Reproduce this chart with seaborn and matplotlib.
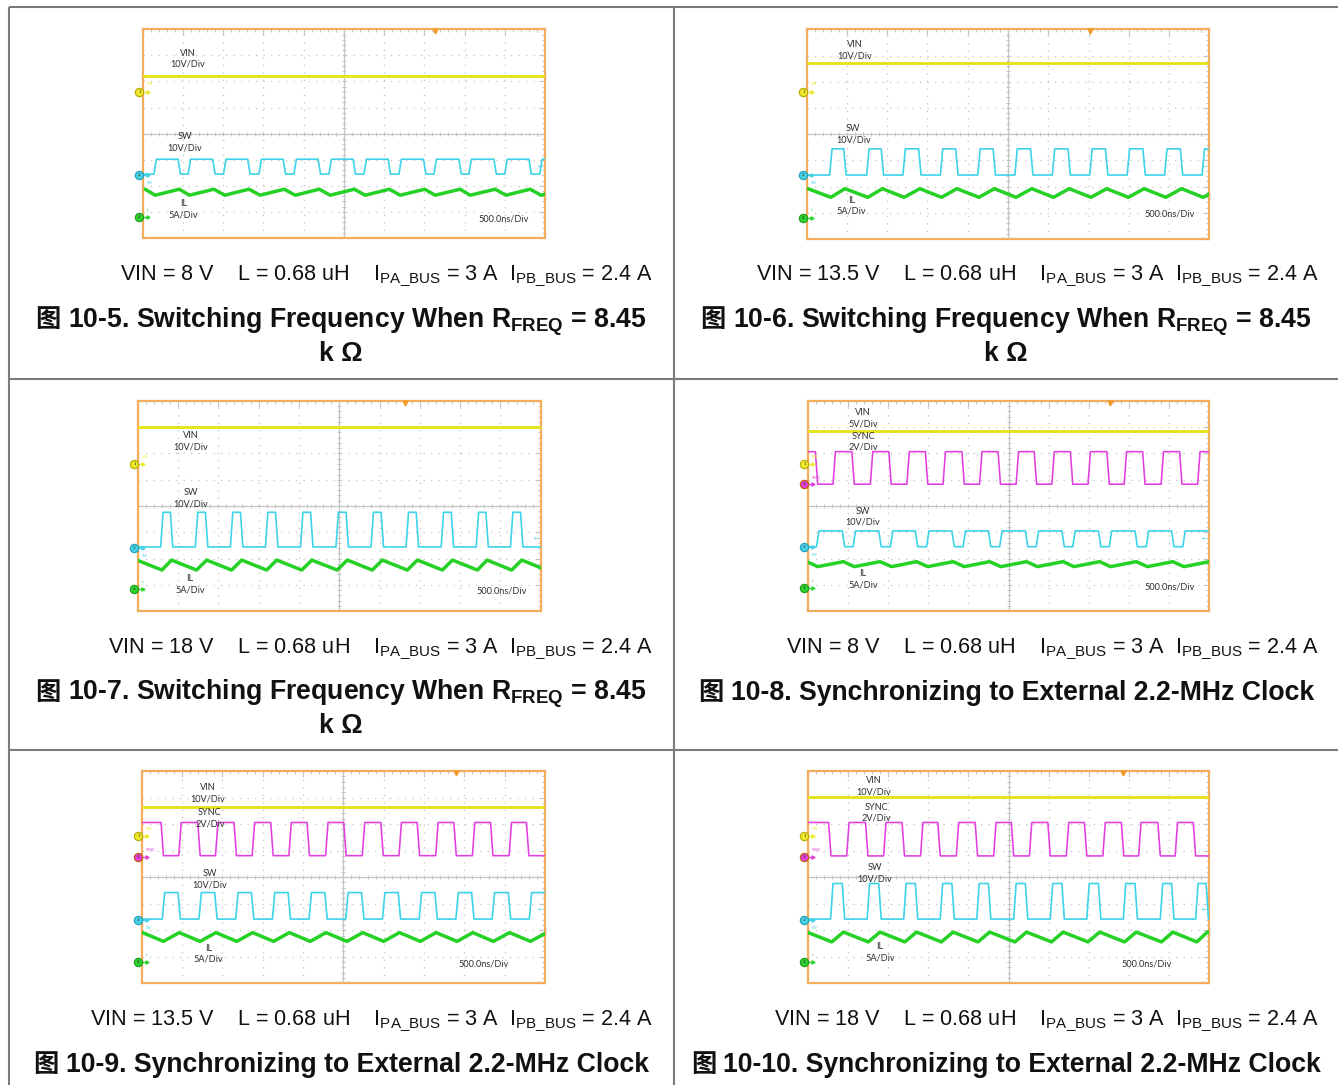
import numpy as np
import matplotlib
matplotlib.use('Agg')
import matplotlib.pyplot as plt
import seaborn as sns
from matplotlib import font_manager

# ---------------- data read from the scope shots ----------------
figure_ids = ['10-5', '10-6', '10-7', '10-8', '10-9', '10-10']
vin_volts = ['8', '13.5', '18', '8', '13.5', '18']
caption_titles = ['Switching Frequency When R$_{\\mathbf{FREQ}}$ = 8.45',
                  'Switching Frequency When R$_{\\mathbf{FREQ}}$ = 8.45',
                  'Switching Frequency When R$_{\\mathbf{FREQ}}$ = 8.45',
                  'Synchronizing to External 2.2-MHz Clock',
                  'Synchronizing to External 2.2-MHz Clock',
                  'Synchronizing to External 2.2-MHz Clock']
caption_second_line = ['k Ω', 'k Ω', 'k Ω', '', '', '']
vin_scale = ['10V/Div', '10V/Div', '10V/Div', '5V/Div', '10V/Div', '10V/Div']
has_sync = [False, False, False, True, True, True]

# trace levels in screen divisions (0 = bottom, 8 = top, 10 divs across)
vin_level = [6.22, 6.70, 7.02, 6.87, 6.63, 7.01]
sw_lo = [2.45, 2.44, 2.44, 2.45, 2.42, 2.42]
sw_hi = [3.02, 3.44, 3.76, 3.05, 3.42, 3.76]
il_lo = [1.64, 1.59, 1.56, 1.69, 1.58, 1.56]
il_hi = [1.87, 1.92, 1.94, 1.88, 1.91, 1.93]
sync_lo = [None, None, None, 4.83, 4.81, 4.80]
sync_hi = [None, None, None, 6.07, 6.06, 6.06]

# channel ground markers (divisions)
gnd_ch1 = [5.61, 5.62, 5.59, 5.59, 5.55, 5.55]
gnd_ch2 = [2.40, 2.43, 2.40, 2.43, 2.40, 2.40]
gnd_ch3 = [None, None, None, 4.82, 4.77, 4.77]
gnd_ch4 = [0.80, 0.81, 0.83, 0.86, 0.80, 0.80]
trig_time = [7.27, 7.04, 6.63, 7.52, 7.80, 7.85]
trig_level = [2.78, 2.80, 2.80, 2.80, 2.80, 2.80]

# switch node edges (divisions)
sw_rise_10_5 = [0.31, 1.16, 2.04, 2.92, 3.79, 4.66, 5.53, 6.40, 7.27, 8.14, 9.03, 9.90]
sw_fall_10_5 = [0.91, 1.77, 2.64, 3.52, 4.39, 5.26, 6.13, 7.01, 7.89, 8.76, 9.63]
sw_rise_10_6 = [0.60, 1.52, 2.42, 3.35, 4.28, 5.20, 6.13, 7.06, 7.99, 8.92, 9.85]
sw_fall_10_6 = [0.95, 1.88, 2.81, 3.73, 4.66, 5.59, 6.52, 7.45, 8.38, 9.31]
sw_rise_10_7 = [0.60, 1.46, 2.33, 3.20, 4.07, 4.95, 5.82, 6.69, 7.56, 8.43, 9.28]
sw_fall_10_7 = [0.84, 1.71, 2.58, 3.45, 4.32, 5.20, 6.07, 6.94, 7.81, 8.67, 9.53]
sw_rise_10_8 = [0.25, 1.16, 2.09, 2.99, 3.90, 4.81, 5.72, 6.63, 7.54, 8.46, 9.37]
sw_fall_10_8 = [0.89, 1.80, 2.71, 3.62, 4.53, 5.45, 6.36, 7.27, 8.18, 9.09]
sw_rise_10_9 = [0.54, 1.45, 2.36, 3.27, 4.18, 5.09, 6.00, 6.91, 7.82, 8.72, 9.64]
sw_fall_10_9 = [0.93, 1.84, 2.75, 3.66, 4.57, 5.48, 6.39, 7.30, 8.21, 9.12]
sw_rise_10_10 = [0.60, 1.51, 2.42, 3.33, 4.24, 5.16, 6.07, 6.98, 7.89, 8.81, 9.69]
sw_fall_10_10 = [0.89, 1.80, 2.71, 3.62, 4.53, 5.45, 6.36, 7.27, 8.18, 9.09, 9.95]

# external clock edges (divisions)
sync_rise_10_8 = [0.66, 1.59, 2.50, 3.40, 4.31, 5.22, 6.11, 7.01, 7.91, 8.83, 9.74]
sync_fall_10_8 = [0.22, 1.13, 2.05, 2.96, 3.87, 4.77, 5.67, 6.57, 7.48, 8.37, 9.29]
sync_rise_10_9 = [0.95, 1.86, 2.77, 3.68, 4.59, 5.50, 6.41, 7.32, 8.23, 9.14]
sync_fall_10_9 = [0.51, 1.42, 2.32, 3.23, 4.13, 5.04, 5.96, 6.86, 7.77, 8.68, 9.57]
sync_rise_10_10 = [1.00, 1.92, 2.84, 3.73, 4.66, 5.55, 6.47, 7.38, 8.27, 9.18]
sync_fall_10_10 = [0.55, 1.47, 2.38, 3.27, 4.20, 5.10, 6.01, 6.92, 7.84, 8.75, 9.63]

sw_rises = [sw_rise_10_5, sw_rise_10_6, sw_rise_10_7, sw_rise_10_8, sw_rise_10_9, sw_rise_10_10]
sw_falls = [sw_fall_10_5, sw_fall_10_6, sw_fall_10_7, sw_fall_10_8, sw_fall_10_9, sw_fall_10_10]
sync_rises = [None, None, None, sync_rise_10_8, sync_rise_10_9, sync_rise_10_10]
sync_falls = [None, None, None, sync_fall_10_8, sync_fall_10_9, sync_fall_10_10]

# ---------------- layout (pixels) ----------------
W, H = 1338, 1085
screen_px = [(142.7, 29.3, 545.0, 238.0), (806.7, 29.3, 1209.3, 239.0),
             (137.7, 401.0, 540.7, 611.0), (807.7, 401.0, 1209.3, 611.0),
             (141.7, 771.0, 545.0, 983.3), (807.7, 771.0, 1209.3, 983.3)]
# label anchors in divisions: vin, sync, sw, il, timebase
label_pos = [
    [(1.13, 6.87), None, (1.05, 3.68), (1.01, 1.11), (8.97, 0.73)],
    [(1.20, 7.19), None, (1.16, 3.99), (1.12, 1.27), (9.02, 0.95)],
    [(1.32, 6.46), None, (1.32, 4.30), (1.30, 1.02), (9.03, 0.76)],
    [(1.38, 7.35), (1.38, 6.44), (1.38, 3.59), (1.38, 1.20), (9.01, 0.90)],
    [(1.63, 7.17), (1.69, 6.21), (1.68, 3.93), (1.65, 1.12), (8.48, 0.74)],
    [(1.65, 7.42), (1.72, 6.43), (1.67, 4.15), (1.80, 1.18), (8.43, 0.72)],
]
col_center = [341, 1006]
cond_right = [653, 1319]
row_cond_y = [280, 653, 1025]
row_cap_y = [327, 700, 1072]
row_cap2_y = [361, 733, 1105]

C_VIN, C_SW, C_IL, C_SYNC = '#e4e41c', '#3dd3e8', '#25d125', '#e23ee0'
C_FRAME = '#f3ad5c'
C_GRID = '#c4c4c4'

sns.set_style('white')
names = {f.name for f in font_manager.fontManager.ttflist}
NARROW = 'Liberation Sans Narrow' if 'Liberation Sans Narrow' in names else 'Liberation Sans'
plt.rcParams['font.family'] = [NARROW, 'Noto Sans CJK SC', 'DejaVu Sans']
plt.rcParams['mathtext.fontset'] = 'custom'
plt.rcParams['mathtext.rm'] = NARROW
plt.rcParams['mathtext.bf'] = NARROW + ':bold'
SCOPE_FONT = 'Lato'
COND_FS = 15.6
CAP_FS = 19.2


def square_wave(rises, falls, lo, hi, edge=0.03):
    edges = sorted([(t, hi) for t in rises] + [(t, lo) for t in falls])
    level = lo if edges[0][1] == hi else hi
    xs, ys = [0.0], [level]
    for t, new in edges:
        xs += [t - edge, t + edge]
        ys += [level, new]
        level = new
    xs.append(10.0)
    ys.append(level)
    return np.array(xs), np.array(ys)


def inductor_current(rises, falls, lo, hi):
    pts = sorted([(t, lo) for t in rises] + [(t, hi) for t in falls])
    ts = [p[0] for p in pts]
    vs = [p[1] for p in pts]
    # continue first / last ramp out past the screen edges
    ts = [ts[0] - (ts[2] - ts[1])] + ts + [ts[-1] + (ts[-2] - ts[-3])]
    vs = [vs[1]] + vs + [vs[-2]]
    return np.array(ts), np.array(vs)


def channel_marker(ax, y, num, face, edge, tag, tag_dy):
    ax.plot([0.0, 0.13], [y, y], color=face, lw=0.9, clip_on=False, zorder=6)
    ax.plot([0.13], [y], marker='>', ms=2.3, color=face, clip_on=False, zorder=6)
    ax.plot([-0.08], [y], marker='o', ms=6, mfc=face, mec=edge, mew=0.8,
            clip_on=False, zorder=7)
    ax.text(-0.08, y, num, fontsize=3.2, ha='center', va='center',
            family='DejaVu Sans', color='#333333', zorder=8, clip_on=False)
    ax.text(0.1, y + tag_dy, tag, fontsize=2.6, color=face, ha='left',
            va='center', family=SCOPE_FONT, zorder=6)


fig = plt.figure(figsize=(W / 100, H / 100), dpi=100)

# table background
bg = fig.add_axes([0, 0, 1, 1])
bg.set_xlim(0, W)
bg.set_ylim(H, 0)
bg.axis('off')
tbl = dict(color='#7b7b7b', lw=1.5, solid_capstyle='butt')
bg.plot([8.7, W], [6.5, 6.5], **tbl)
bg.plot([8.7, 8.7], [6.5, H], **tbl)
bg.plot([674, 674], [6.5, H], **tbl)
bg.plot([8.7, W], [379, 379], **tbl)
bg.plot([8.7, W], [750, 750], **tbl)

cap_texts = []
for i in range(6):
    x0, y0, x1, y1 = screen_px[i]
    ax = fig.add_axes([x0 / W, 1 - y1 / H, (x1 - x0) / W, (y1 - y0) / H])
    ax.set_facecolor('white')
    ax.set_xlim(0, 10)
    ax.set_ylim(0, 8)
    ax.set_xticks(np.arange(0, 11, 1))
    ax.set_yticks(np.arange(0, 9, 1))
    ax.set_xticks(np.arange(0, 10.01, 0.2), minor=True)
    ax.set_yticks(np.arange(0, 8.01, 0.2), minor=True)
    ax.tick_params(which='both', direction='in', colors=C_GRID, top=True,
                   right=True, labelbottom=False, labelleft=False)
    ax.tick_params(which='major', length=4, width=0.8)
    ax.tick_params(which='minor', length=2.5, width=0.7)
    ax.grid(which='major', linestyle=(0, (1, 5)), color=C_GRID, lw=0.9)
    for s in ax.spines.values():
        s.set_color(C_FRAME)
        s.set_linewidth(1.6)
    ax.axvline(5, color=C_GRID, lw=0.9, zorder=1)
    ax.axhline(4, color=C_GRID, lw=0.9, zorder=1)
    tx = np.arange(0, 10.01, 0.2)
    ty = np.arange(0, 8.01, 0.2)
    ax.plot(tx, np.full_like(tx, 4.0), ls='none', marker='|', ms=3.5,
            mew=0.7, color=C_GRID, zorder=1)
    ax.plot(np.full_like(ty, 5.0), ty, ls='none', marker='_', ms=3.5,
            mew=0.7, color=C_GRID, zorder=1)

    # traces
    sns.lineplot(x=[0, 10], y=[vin_level[i], vin_level[i]], ax=ax,
                 color=C_VIN, linewidth=2.1, zorder=3)
    if has_sync[i]:
        sx, sy = square_wave(sync_rises[i], sync_falls[i], sync_lo[i], sync_hi[i])
        sns.lineplot(x=sx, y=sy, ax=ax, color=C_SYNC, linewidth=1.15,
                     sort=False, estimator=None, zorder=3)
    wx, wy = square_wave(sw_rises[i], sw_falls[i], sw_lo[i], sw_hi[i])
    sns.lineplot(x=wx, y=wy, ax=ax, color=C_SW, linewidth=1.2,
                 sort=False, estimator=None, zorder=3)
    ix, iy = inductor_current(sw_rises[i], sw_falls[i], il_lo[i], il_hi[i])
    sns.lineplot(x=ix, y=iy, ax=ax, color=C_IL, linewidth=2.5,
                 sort=False, estimator=None, zorder=3)

    # channel markers, trigger
    channel_marker(ax, gnd_ch1[i], '1', '#eeea2a', '#b5a800', 'VIN', 0.28)
    channel_marker(ax, gnd_ch2[i], '2', '#46d0e6', '#1c9fb5', 'SW', -0.3)
    if gnd_ch3[i] is not None:
        channel_marker(ax, gnd_ch3[i], '3', '#e040d8', '#c06000', 'SYNC', 0.25)
    channel_marker(ax, gnd_ch4[i], '4', '#2ed42e', '#1a9a1a', 'IL', 0.28)
    ax.plot([trig_time[i]], [7.93], marker='v', ms=3.5, color='#f39a2a',
            clip_on=False, zorder=6)
    ax.text(9.93, trig_level[i], '←', fontsize=4, color=C_SW, ha='right',
            va='center', family='DejaVu Sans', zorder=6)

    # on-screen labels
    lp = label_pos[i]
    lab = dict(fontsize=6.6, family=SCOPE_FONT, color='#2e2e2e', ha='center',
               va='center', linespacing=1.3, zorder=5)
    ax.text(*lp[0], 'VIN\n' + vin_scale[i], **lab)
    if lp[1] is not None:
        ax.text(*lp[1], 'SYNC\n2V/Div', **lab)
    ax.text(*lp[2], 'SW\n10V/Div', **lab)
    ax.text(*lp[3], 'IL\n5A/Div', **lab)
    ax.text(*lp[4], '500.0ns/Div', **lab)

    # captions below the screen
    col, row = i % 2, i // 2
    cond = ('VIN = ' + vin_volts[i] + ' V    L = 0.68 uH    '
            'I$_{\\mathrm{PA\\_BUS}}$ = 3 A  I$_{\\mathrm{PB\\_BUS}}$ = 2.4 A')
    bg.text(cond_right[col], row_cond_y[row], cond, fontsize=COND_FS,
            family=NARROW, ha='right', va='baseline', color='#111111')
    t_cjk = bg.text(0, row_cap_y[row], '图', fontsize=CAP_FS - 1,
                    family='Noto Sans CJK SC', fontweight='bold', ha='left',
                    va='baseline', color='#111111')
    t_body = bg.text(0, row_cap_y[row], figure_ids[i] + '. ' + caption_titles[i],
                     fontsize=CAP_FS, family=NARROW, fontweight='bold', ha='left',
                     va='baseline', color='#111111')
    cap_texts.append((col, t_cjk, t_body))
    if caption_second_line[i]:
        bg.text(col_center[col], row_cap2_y[row], caption_second_line[i],
                fontsize=CAP_FS, family=NARROW, fontweight='bold', ha='center',
                va='baseline', color='#111111')

# center the two-part captions in their cells
fig.canvas.draw()
rend = fig.canvas.get_renderer()
gap = 7
for col, t_cjk, t_body in cap_texts:
    w1 = t_cjk.get_window_extent(rend).width
    w2 = t_body.get_window_extent(rend).width
    start = col_center[col] - (w1 + gap + w2) / 2
    t_cjk.set_x(start)
    t_body.set_x(start + w1 + gap)

fig.savefig('out.png', dpi=100)
